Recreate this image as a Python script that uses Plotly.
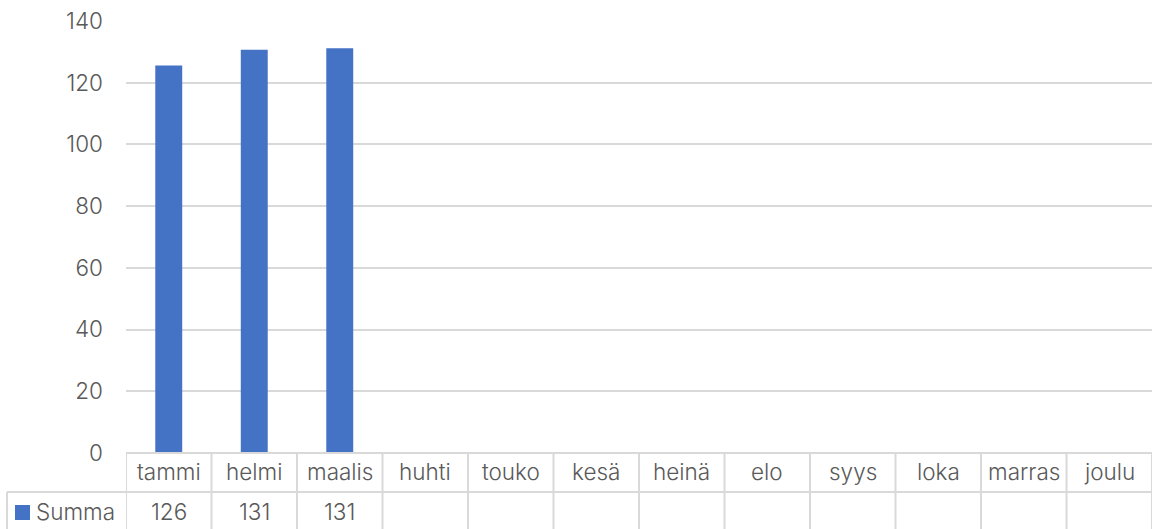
import plotly.graph_objects as go

categories = ["tammi", "helmi", "maalis", "huhti", "touko", "kesä",
              "heinä", "elo", "syys", "loka", "marras", "joulu"]
summa = [125.6, 130.7, 131.2, None, None, None, None, None, None, None, None, None]
table_labels = ["126", "131", "131", "", "", "", "", "", "", "", "", ""]
series_name = "Summa"
y_ticks = [0, 20, 40, 60, 80, 100, 120, 140]

BLUE = "#4472C4"
GRID = "#d9d9d9"
TXT = "#595959"
FONT = "Inter"
FS = 22.5

W, H = 1152, 529
L, T, B = 126, 21, 76
plot_h = H - T - B

def py(pix):
    # pixel row -> paper y
    return (H - B - pix) / plot_h

def px(pix):
    return (pix - L) / (W - L)

fig = go.Figure()
fig.add_trace(go.Bar(x=categories, y=summa, marker_color=BLUE, name=series_name,
                     marker_line_width=0))

n = len(categories)
shapes = []
line = dict(color=GRID, width=2)
shapes.append(dict(type="line", xref="x", yref="paper", x0=-0.5, x1=n - 0.5,
                   y0=py(453), y1=py(453), line=line))
shapes.append(dict(type="line", xref="paper", yref="paper", x0=px(7), x1=1,
                   y0=py(492), y1=py(492), line=line))
for i in range(n + 1):
    shapes.append(dict(type="line", xref="x", yref="paper", x0=i - 0.5, x1=i - 0.5,
                       y0=py(453), y1=py(530), line=line))
shapes.append(dict(type="line", xref="paper", yref="paper", x0=px(7), x1=px(7),
                   y0=py(492), y1=py(530), line=line))
shapes.append(dict(type="rect", xref="paper", yref="paper",
                   x0=px(15), x1=px(30), y0=py(520), y1=py(505),
                   fillcolor=BLUE, line=dict(width=0)))

tf = dict(size=FS, color=TXT, family=FONT, weight=300)
annotations = []
for c, v in zip(categories, table_labels):
    annotations.append(dict(x=c, y=py(472), xref="x", yref="paper", text=c,
                            showarrow=False, font=tf, xanchor="center", yanchor="middle"))
    if v:
        annotations.append(dict(x=c, y=py(511), xref="x", yref="paper", text=v,
                                showarrow=False, font=tf, xanchor="center", yanchor="middle"))
annotations.append(dict(x=px(34), y=py(511), xref="paper", yref="paper",
                        text=series_name, showarrow=False, font=tf,
                        xanchor="left", yanchor="middle"))

fig.update_layout(
    width=W, height=H,
    margin=dict(l=L, r=0, t=T, b=B, autoexpand=False),
    paper_bgcolor="white", plot_bgcolor="white",
    showlegend=False,
    bargap=0.685,
    shapes=shapes,
    annotations=annotations,
    font=dict(family=FONT, color=TXT, size=FS, weight=300),
    xaxis=dict(showticklabels=False, showgrid=False, zeroline=False, showline=False,
               range=[-0.5, n - 0.5], fixedrange=True),
    yaxis=dict(range=[0, 140], tickvals=y_ticks, showgrid=True, gridcolor=GRID,
               gridwidth=2, zeroline=False, showline=False, tickfont=tf,
               ticklabelstandoff=22, fixedrange=True),
)

fig.write_html("out.html", config={"displayModeBar": False},
               post_script="document.body.style.margin='0';document.body.style.overflow='hidden';")
